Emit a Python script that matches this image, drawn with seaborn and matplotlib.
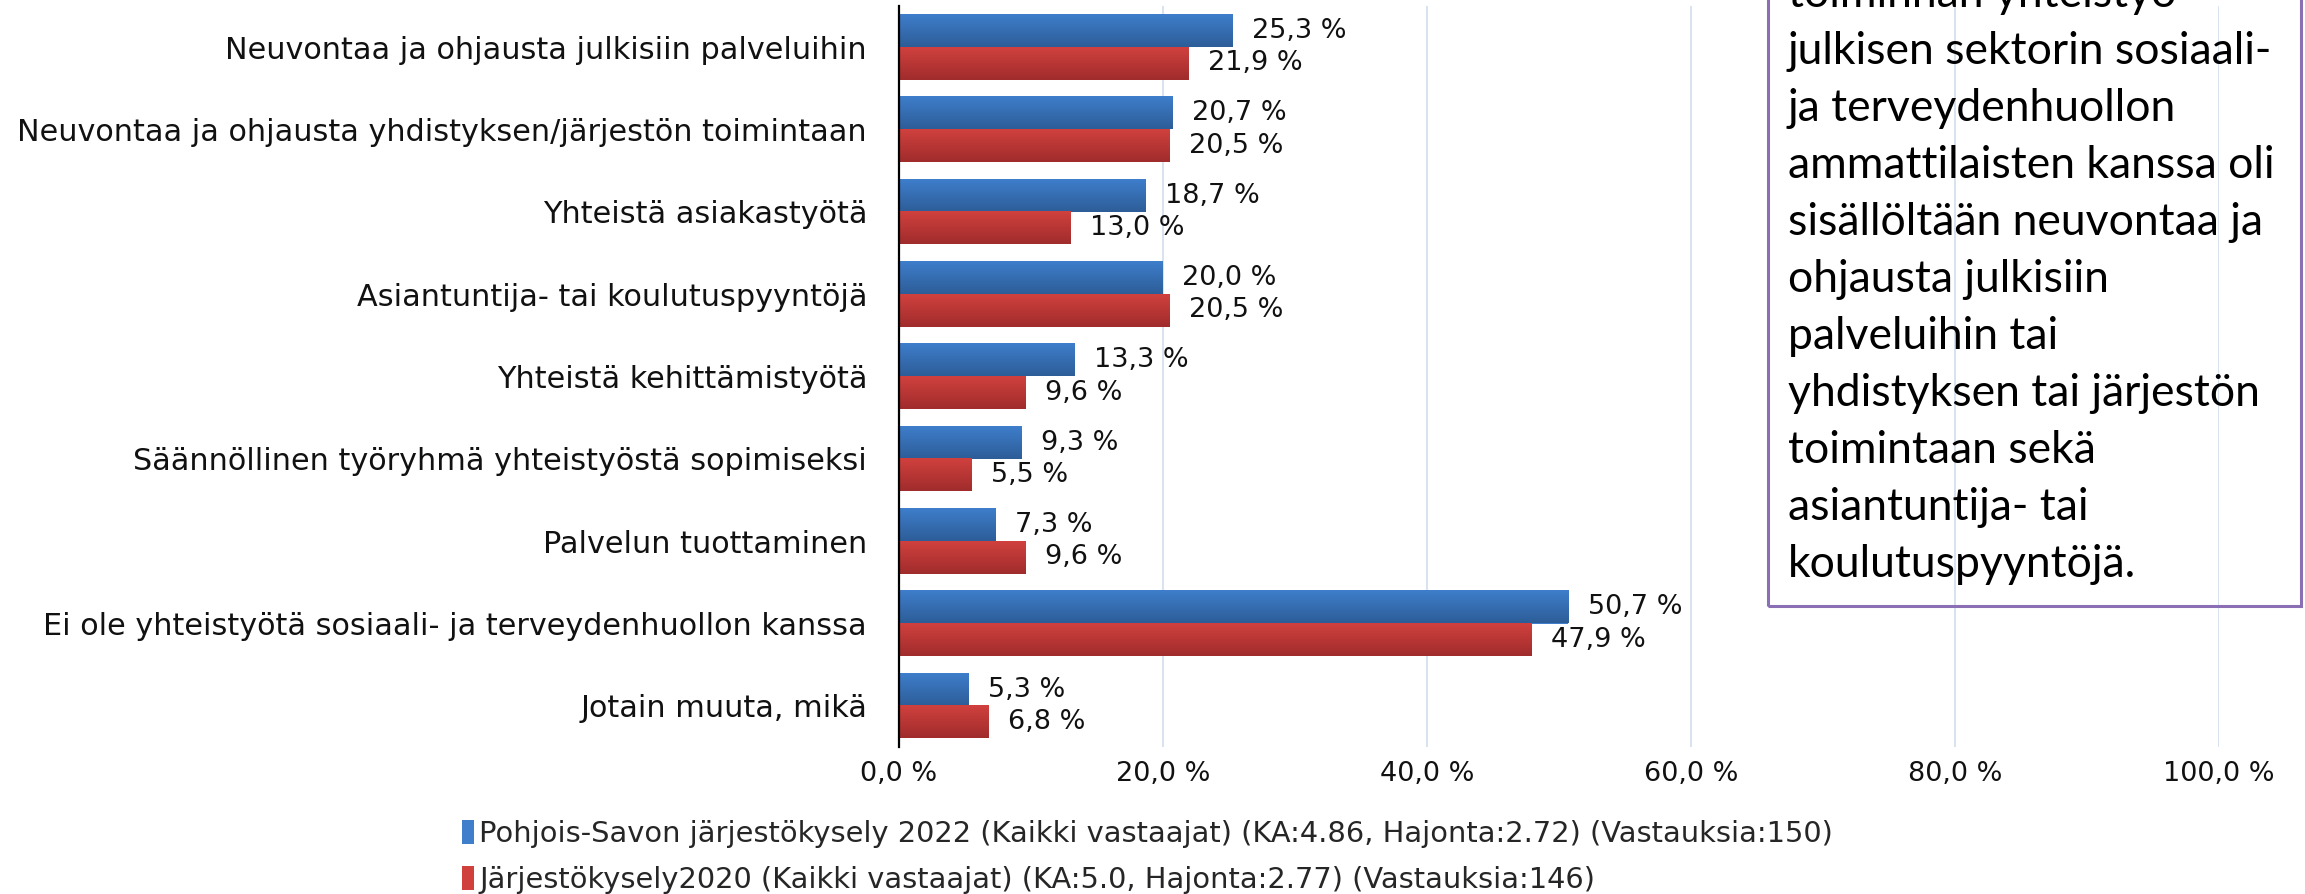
import numpy as np
import pandas as pd
import matplotlib
matplotlib.use("Agg")
import matplotlib.pyplot as plt
from matplotlib.patches import Patch, Rectangle
from matplotlib.colors import LinearSegmentedColormap
from matplotlib.ticker import FuncFormatter
import seaborn as sns

# Data
categories = [
    "Neuvontaa ja ohjausta julkisiin palveluihin",
    "Neuvontaa ja ohjausta yhdistyksen/järjestön toimintaan",
    "Yhteistä asiakastyötä",
    "Asiantuntija- tai koulutuspyyntöjä",
    "Yhteistä kehittämistyötä",
    "Säännöllinen työryhmä yhteistyöstä sopimiseksi",
    "Palvelun tuottaminen",
    "Ei ole yhteistyötä sosiaali- ja terveydenhuollon kanssa",
    "Jotain muuta, mikä",
]
values_2022 = [25.3, 20.7, 18.7, 20.0, 13.3, 9.3, 7.3, 50.7, 5.3]
values_2020 = [21.9, 20.5, 13.0, 20.5, 9.6, 5.5, 9.6, 47.9, 6.8]
series_names = [
    "Pohjois-Savon järjestökysely 2022 (Kaikki vastaajat) (KA:4.86, Hajonta:2.72) (Vastauksia:150)",
    "Järjestökysely2020 (Kaikki vastaajat) (KA:5.0, Hajonta:2.77) (Vastauksia:146)",
]
x_ticks = [0, 20, 40, 60, 80, 100]
box_lines = [
    "toiminnan yhteistyö",
    "julkisen sektorin sosiaali-",
    "ja terveydenhuollon",
    "ammattilaisten kanssa oli",
    "sisällöltään neuvontaa ja",
    "ohjausta julkisiin",
    "palveluihin tai",
    "yhdistyksen tai järjestön",
    "toimintaan sekä",
    "asiantuntija- tai",
    "koulutuspyyntöjä.",
]

df = pd.DataFrame({
    "Kategoria": categories * 2,
    "Osuus": values_2022 + values_2020,
    "Kysely": [series_names[0]] * len(categories) + [series_names[1]] * len(categories),
})

sns.set_style("white")
plt.rcParams["font.family"] = ["DejaVu Sans"]

W, H = 2305, 894
fig = plt.figure(figsize=(W / 100, H / 100), dpi=100)
ax = fig.add_axes([899 / W, 147 / H, 1320 / W, 741 / H])

blue_top, blue_bot = "#3e7ecb", "#2d5d98"
red_top, red_bot = "#d0413e", "#a02c2c"

sns.barplot(data=df, y="Kategoria", x="Osuus", hue="Kysely", hue_order=series_names,
            order=categories, palette=[blue_top, red_top], width=0.79, gap=0,
            orient="h", ax=ax, legend=False, edgecolor="none", saturation=1)

xlim = (0, 100)
ylim = ax.get_ylim()

# gradient fill on the bars
for cont, (c1, c2) in zip(ax.containers, [(blue_top, blue_bot), (red_top, red_bot)]):
    cmap = LinearSegmentedColormap.from_list("g", [c1, c2])
    grad = np.linspace(0, 1, 64).reshape(-1, 1)
    for p in cont.patches:
        x0, y0, w, h = p.get_x(), p.get_y(), p.get_width(), p.get_height()
        ax.imshow(grad, cmap=cmap, aspect="auto", origin="upper",
                  extent=(x0, x0 + w, y0 + h, y0), zorder=2.5, interpolation="bicubic")
    labels = [f"{v:.1f} %".replace(".", ",") for v in cont.datavalues]
    ax.bar_label(cont, labels=labels, padding=14, fontsize=19.5, color="#111111")

ax.set_xlim(*xlim)
ax.set_ylim(*ylim)

ax.set_xticks(x_ticks)
ax.xaxis.set_major_formatter(FuncFormatter(lambda v, _: f"{v:.1f} %".replace(".", ",")))
ax.tick_params(axis="x", length=0, pad=10, labelsize=19.5, labelcolor="#111111")
ax.tick_params(axis="y", length=0, pad=23, labelsize=21.8, labelcolor="#111111")
ax.set_xlabel("")
ax.set_ylabel("")
ax.grid(axis="x", color="#d6e0ee", linewidth=1.3)
ax.grid(axis="y", visible=False)
ax.set_axisbelow(True)
for s in ["top", "right", "bottom"]:
    ax.spines[s].set_visible(False)
ax.spines["left"].set_color("black")
ax.spines["left"].set_linewidth(1.6)
ax.spines["left"].set_zorder(4)

# legend below the chart
handles = [Patch(facecolor=blue_top, edgecolor="none"), Patch(facecolor=red_top, edgecolor="none")]
fig.legend(handles, series_names, loc="center left", bbox_to_anchor=(462 / W, (H - 857) / H),
           frameon=False, fontsize=20.8, handlelength=0.4, handleheight=0.9,
           handletextpad=0.2, labelspacing=0.6, borderpad=0, borderaxespad=0)

# annotation box at top right
fig.patches.append(Rectangle((1768 / W, (H - 606) / H), (2301 - 1768) / W, 1.0,
                             transform=fig.transFigure, fill=False,
                             edgecolor="#8a6fb5", linewidth=2.2, zorder=5))
n = len(box_lines)
for i, line in enumerate(box_lines):
    y_px = 577 - (n - 1 - i) * 57
    fig.text(1788 / W, (H - y_px) / H, line, ha="left", va="baseline",
             fontsize=32, family=["Lato", "DejaVu Sans"], color="black")

fig.savefig("out.png", dpi=100)
